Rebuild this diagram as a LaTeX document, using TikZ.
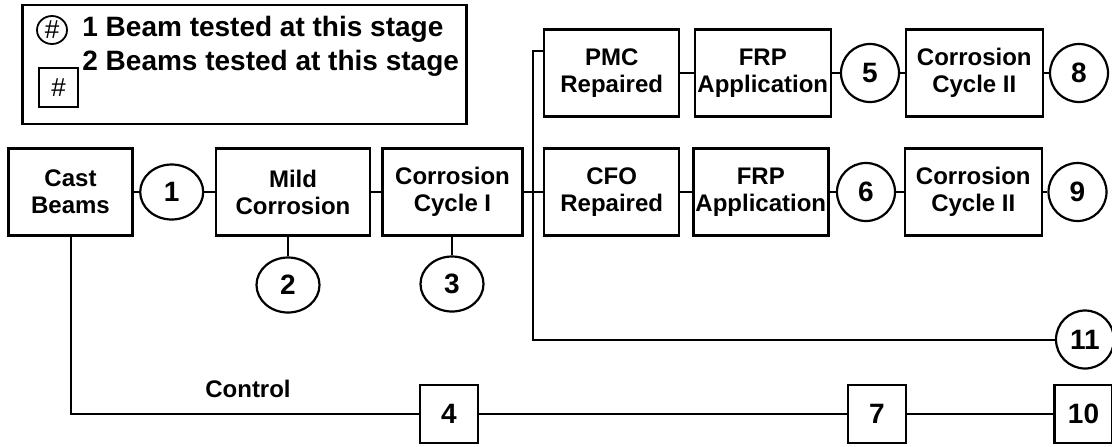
\documentclass[tikz,border=0pt]{standalone}
\usepackage{fontspec}
\setmainfont{Liberation Sans}
\usetikzlibrary{shapes.geometric}
\tikzset{
  stage/.style={draw, line width=1.2pt, align=center, inner sep=0pt, minimum height=43.5pt,
                font=\fontsize{12}{13.5}\selectfont\bfseries},
  tested/.style={draw, ellipse, line width=1.1pt, inner sep=0pt, minimum width=29pt, minimum height=29pt,
                 font=\fontsize{14}{16}\selectfont\bfseries},
  tested two/.style={draw, rectangle, line width=1.2pt, inner sep=0pt, minimum width=29pt, minimum height=29pt,
                     font=\fontsize{14}{16}\selectfont\bfseries},
  link/.style={line width=1pt},
}

\begin{document}
\begin{tikzpicture}[x=0.5pt, y=-0.5pt,
  wide/.style={tested, minimum width=31.5pt, minimum height=27.5pt},
  lgd/.style={font=\fontsize{14}{16}\selectfont\bfseries, inner sep=0pt, anchor=west}]
  \useasboundingbox (0,0) rectangle (1112,446);
  % legend
  \node[draw, line width=1.4pt, minimum width=222pt, minimum height=59.5pt] (legend) at (244.5,64.5) {};
  \node[draw, ellipse, line width=0.9pt, inner sep=0pt, minimum width=15pt, minimum height=14pt,
        font=\fontsize{13}{15}\selectfont] (lgone) at (52,30) {\#};
  \node[draw, line width=0.9pt, inner sep=0pt, minimum width=19.5pt, minimum height=19.5pt,
        font=\fontsize{13}{15}\selectfont] (lgtwo) at (58.5,87.5) {\#};
  \node[lgd] (lgtxta) at (82,29) {1 Beam tested at this stage};
  \node[lgd] (lgtxtb) at (82,63) {2 Beams tested at this stage};
  % first row: casting and corrosion
  \node[stage, minimum width=62pt] (cast) at (70.5,192) {Cast\\Beams};
  \node[wide] (c1) at (171.7,192) {1};
  \node[stage, minimum width=77pt] (mild) at (293,192) {Mild\\Corrosion};
  \node[stage, minimum width=70pt] (cyc1) at (452.5,192) {Corrosion\\Cycle I};
  \node[wide] (c2) at (288,285) {2};
  \node[wide] (c3) at (452,284) {3};
  % repair branches
  \node[stage, minimum width=67.5pt] (pmc) at (611.7,73) {PMC\\Repaired};
  \node[stage, minimum width=68pt] (frpa) at (762.8,73) {FRP\\Application};
  \node[tested] (c5) at (870,73) {5};
  \node[stage, minimum width=68.5pt] (cyca) at (974.3,73) {Corrosion\\Cycle II};
  \node[tested] (c8) at (1079,73) {8};
  \node[stage, minimum width=67.5pt] (cfo) at (611.7,192) {CFO\\Repaired};
  \node[stage, minimum width=67.5pt] (frpb) at (760.8,192) {FRP\\Application};
  \node[tested] (c6) at (866,192) {6};
  \node[stage, minimum width=68.5pt] (cycb) at (973.3,192) {Corrosion\\Cycle II};
  \node[tested] (c9) at (1077.5,192) {9};
  \node[tested] (c11) at (1085,339.5) {11};
  % control beams
  \node[tested two] (b4) at (449,414) {4};
  \node[tested two] (b7) at (877,414) {7};
  \node[tested two] (b10) at (1083.5,414) {10};
  \node[font=\fontsize{12}{14}\selectfont\bfseries] (ctrl) at (248,389) {Control};
  \coordinate (split) at (533.3,192);
  % connectors
  \draw[link] (cast) -- (c1) -- (mild) -- (cyc1) -- (cfo) -- (frpb) -- (c6) -- (cycb) -- (c9);
  \draw[link] (pmc) -- (frpa) -- (c5) -- (cyca) -- (c8);
  \draw[link] (c2) -- (c2 |- mild.south);
  \draw[link] (c3) -- (c3 |- cyc1.south);
  \draw[link] ([yshift=11pt]pmc.west) -| (split) |- (c11.west);
  \draw[link] (cast.south) |- (b4.west);
  \draw[link] (b4) -- (b7) -- (b10);
\end{tikzpicture}
\end{document}
